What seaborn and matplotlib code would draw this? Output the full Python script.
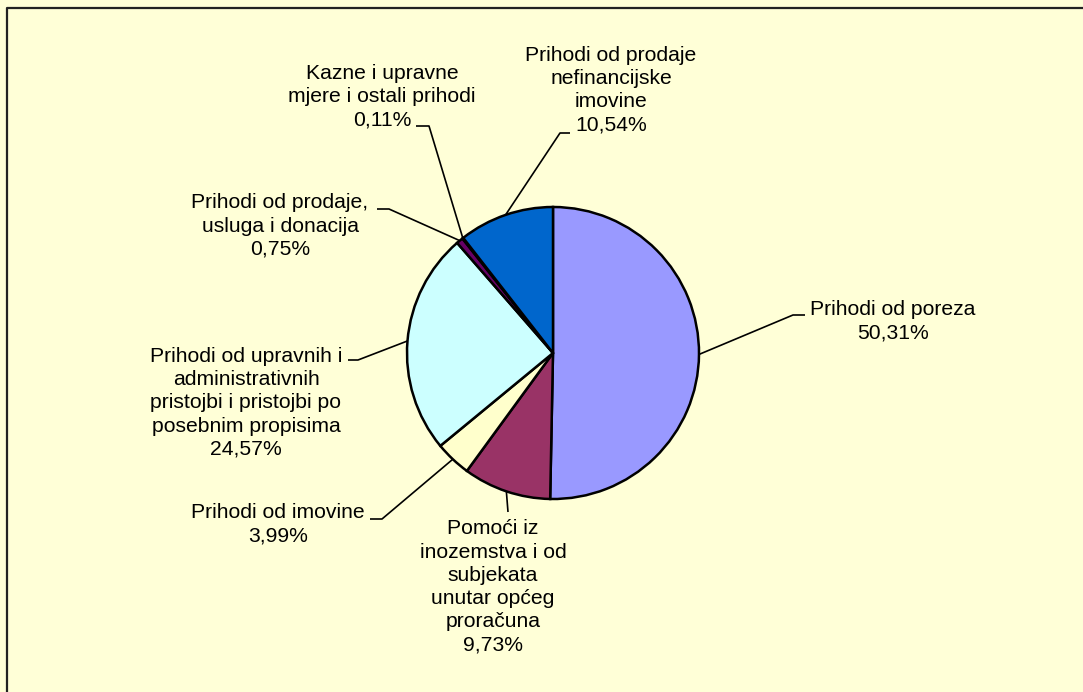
import numpy as np
import matplotlib
matplotlib.use('Agg')
import matplotlib.pyplot as plt
import seaborn as sns

# revenue structure, clockwise from 12 o'clock
categories = [
    'Prihodi od poreza',
    'Pomoći iz\ninozemstva i od\nsubjekata\nunutar općeg\nproračuna',
    'Prihodi od imovine',
    'Prihodi od upravnih i\nadministrativnih\npristojbi i pristojbi po\nposebnim propisima',
    'Prihodi od prodaje,\nusluga i donacija',
    'Kazne i upravne\nmjere i ostali prihodi',
    'Prihodi od prodaje\nnefinancijske\nimovine',
]
shares = [50.31, 9.73, 3.99, 24.57, 0.75, 0.11, 10.54]
colors = ['#9999FF', '#993366', '#FFFFCC', '#CCFFFF', '#660066', '#FF8080', '#0066CC']

# layout in image pixels (y measured from top)
W, H = 1083, 692
pie_center = (553, 353)
pie_radius = 146
label_pos = [(893, 321), (493, 587), (278, 524), (246, 403), (280, 226), (382, 97), (611, 90)]
leader_end = [
    [(793, 315), (805, 315)],
    [(508, 512)],
    [(382, 519), (370, 519)],
    [(358, 360), (348, 360)],
    [(389, 209), (377, 209)],
    [(429, 126), (416, 126)],
    [(560, 133), (570, 133)],
]
bg = '#FFFFD7'

sns.set_theme(style='white')
plt.rcParams['font.family'] = ['Liberation Sans', 'DejaVu Sans']

fig = plt.figure(figsize=(W / 100, H / 100), dpi=100)
fig.patch.set_facecolor(bg)
ax = fig.add_axes([0, 0, 1, 1])
ax.set_facecolor(bg)

wedges, _ = ax.pie(
    shares,
    colors=sns.color_palette(colors),
    startangle=90,
    counterclock=False,
    center=(pie_center[0], H - pie_center[1]),
    radius=pie_radius,
    wedgeprops=dict(edgecolor='black', linewidth=1.8),
)

for w, name, val, pos, ends in zip(wedges, categories, shares, label_pos, leader_end):
    mid = np.deg2rad((w.theta1 + w.theta2) / 2)
    xs = [w.center[0] + w.r * np.cos(mid)] + [p[0] for p in ends]
    ys = [w.center[1] + w.r * np.sin(mid)] + [H - p[1] for p in ends]
    ax.plot(xs, ys, color='black', lw=1.2, solid_capstyle='butt')
    pct = f'{val:.2f}%'.replace('.', ',')
    ax.text(pos[0], H - pos[1], f'{name}\n{pct}', ha='center', va='center',
            multialignment='center', fontsize=15.2, linespacing=1.28, color='black')

# chart area border (only top and left edge fall inside the image)
ax.plot([7, 7, W + 5], [-5, H - 8, H - 8], color='#222222', lw=1.6)

ax.set_xlim(0, W)
ax.set_ylim(0, H)
ax.set_aspect('auto')
ax.axis('off')

fig.savefig('out.png', dpi=100, facecolor=bg)
